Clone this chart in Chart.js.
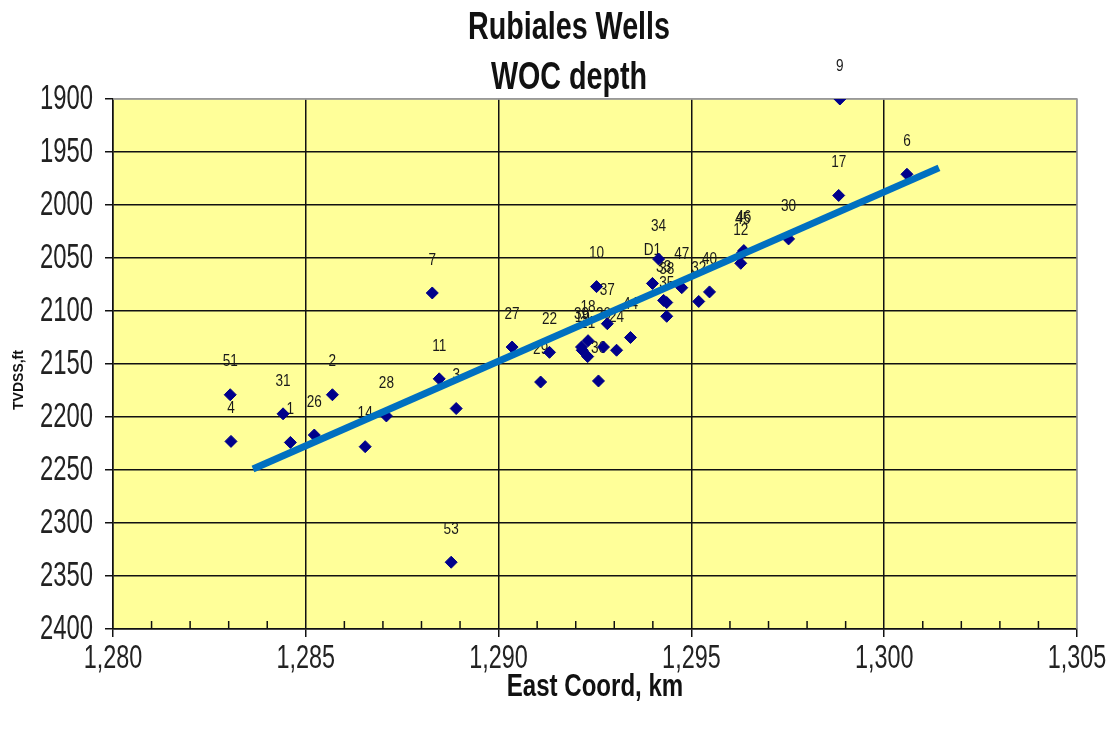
<!DOCTYPE html>
<html>
<head>
<meta charset="utf-8">
<title>Rubiales Wells - WOC depth</title>
<script src="https://cdn.jsdelivr.net/npm/chart.js@4/dist/chart.umd.min.js"></script>
<style>
  html, body { margin: 0; padding: 0; background: #fff; }
</style>
</head>
<body>
<canvas id="woc-chart" width="1118" height="734"></canvas>
<script>
// well names, east coordinate (km) and WOC depth (TVDSS, ft)
const wellNames = ['51', '4', '31', '1', '26', '2', '14', '28', '7', '11', '3', '53', '27', '29', '22',
  '39', '19', '18', '21', '36', '10', '20', '37', '24', '44', 'D1', '34', '33', '38', '35',
  '47', '32', '40', '12', '45', '46', '30', '17', '9', '6'];
const eastKm = [1283.04, 1283.06, 1284.41, 1284.60, 1285.22, 1285.69, 1286.54, 1287.09, 1288.28, 1288.46, 1288.90, 1288.77, 1290.35, 1291.09, 1291.32,
  1292.15, 1292.17, 1292.32, 1292.31, 1292.59, 1292.54, 1292.72, 1292.82, 1293.06, 1293.42, 1293.99, 1294.15, 1294.28, 1294.36, 1294.36,
  1294.75, 1295.19, 1295.47, 1296.28, 1296.33, 1296.36, 1297.52, 1298.82, 1298.85, 1300.59];
const wocDepth = [2179, 2223, 2197, 2224, 2217, 2179, 2228, 2199, 2083, 2164, 2192, 2337, 2134, 2167, 2139,
  2134, 2137, 2128, 2143, 2166, 2077, 2134, 2112, 2137, 2125, 2074, 2051, 2090, 2092, 2105,
  2078, 2091, 2082, 2055, 2045, 2043, 2032, 1991, 1900, 1971];

// trend line end points
const trendX = [1283.63, 1301.42];
const trendY = [2249, 1965];

const titleLines = ['Rubiales Wells', 'WOC depth'];
const xTitle = 'East Coord, km';
const yTitle = 'TVDSS,ft';

const sans = "'Liberation Sans', Arial, sans-serif";

// Arial Narrow is not around, so squeeze Liberation Sans sideways
function narrowText(ctx, text, x, y, font, sx, sy, align) {
  ctx.save();
  ctx.font = font;
  ctx.textAlign = align || 'center';
  ctx.textBaseline = 'middle';
  ctx.translate(x, y);
  ctx.scale(sx, sy);
  ctx.fillText(text, 0, 0);
  ctx.restore();
}

const plotArea = {
  id: 'plotArea',
  beforeDraw(chart) {
    const { ctx, chartArea: a } = chart;
    ctx.save();
    ctx.fillStyle = '#ffff99';
    ctx.fillRect(a.left, a.top, a.width, a.height);
    ctx.restore();
  },
  beforeDatasetsDraw(chart) {
    const { ctx, chartArea: a } = chart;
    const x = chart.scales.x;
    ctx.save();
    // minor ticks pointing into the plot
    ctx.strokeStyle = '#111';
    ctx.lineWidth = 1.5;
    x.ticks.forEach(t => {
      if (t.value % 5 === 0) return;
      const px = x.getPixelForValue(t.value);
      ctx.beginPath();
      ctx.moveTo(px, a.bottom);
      ctx.lineTo(px, a.bottom - 8);
      ctx.stroke();
    });
    // grey frame top and right
    ctx.strokeStyle = '#999';
    ctx.beginPath();
    ctx.moveTo(a.left, a.top);
    ctx.lineTo(a.right, a.top);
    ctx.lineTo(a.right, a.bottom);
    ctx.stroke();
    ctx.restore();

    // well labels, above each point
    const meta = chart.getDatasetMeta(1);
    ctx.fillStyle = '#1a1a1a';
    meta.data.forEach((pt, i) => {
      narrowText(ctx, wellNames[i], pt.x, pt.y - 33, '17px ' + sans, 0.8, 1);
    });
  },
  afterDraw(chart) {
    const { ctx, chartArea: a } = chart;
    const x = chart.scales.x;
    const y = chart.scales.y;
    ctx.save();
    ctx.fillStyle = '#111';
    narrowText(ctx, titleLines[0], 569, 28, 'bold 35px ' + sans, 0.82, 1.1);
    narrowText(ctx, titleLines[1], 569, 78, 'bold 35px ' + sans, 0.82, 1.1);
    narrowText(ctx, xTitle, (a.left + a.right) / 2, 688, 'bold 29px ' + sans, 0.83, 1.05);

    ctx.fillStyle = '#222';
    x.ticks.forEach(t => {
      if (t.value % 5 !== 0) return;
      narrowText(ctx, t.value.toLocaleString('en-US'), x.getPixelForValue(t.value), 659, '30px ' + sans, 0.78, 1.12);
    });
    y.ticks.forEach(t => {
      narrowText(ctx, String(t.value), 93, y.getPixelForValue(t.value), '31px ' + sans, 0.77, 1.12, 'right');
    });

    // rotated axis title
    ctx.fillStyle = '#111';
    ctx.translate(19, 380);
    ctx.rotate(-Math.PI / 2);
    ctx.font = 'bold 14px ' + sans;
    ctx.textAlign = 'center';
    ctx.textBaseline = 'middle';
    ctx.fillText(yTitle, 0, 0);
    ctx.restore();
  }
};

new Chart(document.getElementById('woc-chart'), {
  type: 'scatter',
  data: {
    datasets: [
      {
        type: 'line',
        label: 'Trend',
        data: trendX.map((x, i) => ({ x, y: trendY[i] })),
        borderColor: '#0070c0',
        borderWidth: 7,
        borderCapStyle: 'butt',
        pointRadius: 0,
        fill: false,
      },
      {
        label: 'Wells',
        data: eastKm.map((x, i) => ({ x, y: wocDepth[i] })),
        pointStyle: 'rectRot',
        pointRadius: 6,
        backgroundColor: '#00008b',
        borderColor: '#00008b',
      },
    ],
  },
  options: {
    responsive: false,
    animation: false,
    devicePixelRatio: 1,
    layout: { padding: { top: 99, right: 41, left: 0, bottom: 0 } },
    plugins: {
      legend: { display: false },
      tooltip: { enabled: false },
    },
    scales: {
      x: {
        type: 'linear',
        min: 1280,
        max: 1305,
        afterFit: s => { s.height = 105; },
        border: { color: '#111', width: 1.5 },
        grid: {
          color: c => (c.tick.value % 5 !== 0 ? 'rgba(0,0,0,0)' : c.tick.value === 1305 ? '#999' : '#111'),
          tickColor: c => (c.tick.value % 5 === 0 ? '#111' : 'rgba(0,0,0,0)'),
          lineWidth: 1.5,
          tickLength: 8,
        },
        ticks: { stepSize: 1, autoSkip: false, display: false },
      },
      y: {
        type: 'linear',
        reverse: true,
        min: 1900,
        max: 2400,
        afterFit: s => { s.width = 113; },
        border: { color: '#111', width: 1.5 },
        grid: {
          color: c => (c.tick.value === 1900 ? '#999' : '#111'),
          tickColor: '#111',
          lineWidth: 1.5,
          tickLength: 8,
        },
        ticks: { stepSize: 50, display: false },
      },
    },
  },
  plugins: [plotArea],
});
</script>
</body>
</html>
